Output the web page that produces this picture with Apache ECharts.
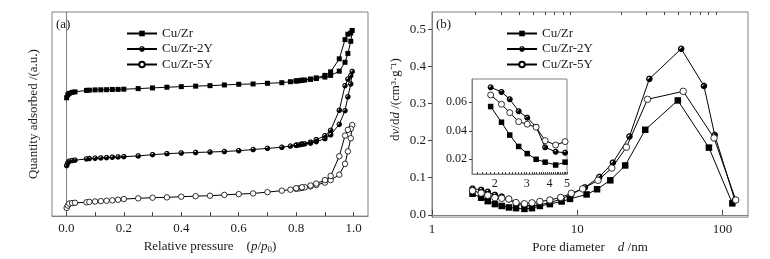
<!DOCTYPE html>
<html>
<head>
<meta charset="utf-8">
<script src="https://cdn.jsdelivr.net/npm/echarts@6/dist/echarts.min.js"></script>
<style>html,body{margin:0;padding:0;background:#fff}#chart{width:770px;height:259px}</style>
</head>
<body>
<div id="chart"></div>
<script>
// (a) N2 isotherms: relative pressure, adsorption branch then desorption branch
var P_ADS = [0.001, 0.005, 0.01, 0.02, 0.03, 0.07, 0.08, 0.1, 0.12, 0.14, 0.16, 0.18, 0.2, 0.25, 0.3, 0.35, 0.4, 0.45, 0.5, 0.55, 0.6, 0.65, 0.7, 0.75, 0.78, 0.8, 0.81, 0.82, 0.83, 0.85, 0.87, 0.9, 0.92, 0.95, 0.97, 0.98, 0.99, 0.995];
var P_DES = [0.99, 0.98, 0.97, 0.95, 0.92, 0.9, 0.87, 0.85, 0.82, 0.8];
// quantity adsorbed (a.u., curves offset)
var Q_ZR_ADS = [120, 123, 124.5, 125.5, 126, 127.5, 127.7, 128, 128.1, 128.2, 128.4, 128.5, 128.7, 129.3, 130, 130.7, 131.3, 131.8, 132.3, 133, 133.7, 134, 134.7, 135.3, 136.3, 137, 137.3, 137.7, 138, 138.7, 139.5, 141, 142.7, 147, 156, 165, 177.3, 188.3];
var Q_ZR_DES = [185.7, 184.5, 179, 159.5, 146.3, 142.7, 140.2, 139, 137.8, 137.1];
var Q_2Y_ADS = [51.3, 54, 55.7, 56.3, 56.7, 58, 58.3, 58.7, 59, 59.3, 59.7, 60, 60.3, 61, 62.3, 63.3, 64, 64.5, 65, 65.5, 66.3, 67.5, 68.7, 69.8, 71, 71.7, 72.2, 72.7, 73.2, 74, 75.5, 78.5, 82.5, 93, 107, 121, 134, 146.7];
var Q_2Y_DES = [142.5, 139, 132.3, 107.3, 87, 81.5, 77.5, 75, 73.2, 72];
var Q_5Y_ADS = [8.3, 10.7, 12.7, 13.2, 13.5, 14, 14.4, 14.8, 15.2, 15.6, 16, 16.6, 17.3, 18, 18.7, 19, 19.7, 20.2, 20.7, 21.5, 22.3, 23, 24.3, 25.8, 26.8, 27.7, 28.1, 28.6, 29.2, 30.2, 31.5, 34, 36.5, 42, 53, 65.7, 79, 92.3];
var Q_5Y_DES = [88.5, 87.5, 81.7, 60.7, 40.7, 36.5, 33, 31, 29.2, 28.2];

// (b) pore size distribution
var D_ZR = [1.90, 2.18, 2.42, 2.71, 3.02, 3.38, 3.79, 4.33, 4.88, 5.53, 6.48, 7.81, 8.92, 11.6, 13.7, 16.9, 21.4, 29.4, 49.3, 80.7, 117];
var V_ZR = [0.057, 0.046, 0.037, 0.029, 0.024, 0.020, 0.018, 0.016, 0.018, 0.024, 0.029, 0.036, 0.043, 0.055, 0.069, 0.093, 0.133, 0.229, 0.308, 0.181, 0.031];
var D_2Y = [1.90, 2.18, 2.42, 2.71, 3.02, 3.38, 3.79, 4.33, 4.88, 5.53, 6.48, 7.7, 9.1, 11.3, 14.2, 17.6, 22.9, 31.4, 52, 74.6, 88.5, 121.6];
var V_2Y = [0.0705, 0.0672, 0.0621, 0.0537, 0.0492, 0.0427, 0.0284, 0.0253, 0.0246, 0.027, 0.033, 0.042, 0.055, 0.074, 0.102, 0.1405, 0.211, 0.366, 0.447, 0.347, 0.215, 0.040];
var D_5Y = [1.90, 2.18, 2.42, 2.71, 3.02, 3.38, 3.79, 4.33, 4.88, 5.53, 6.48, 7.7, 9.1, 10.9, 13.9, 17.3, 21.8, 30.5, 53.7, 87.5, 123.6];
var V_5Y = [0.0651, 0.0586, 0.0527, 0.0464, 0.0446, 0.0425, 0.0331, 0.0300, 0.0324, 0.036, 0.040, 0.047, 0.058, 0.070, 0.093, 0.126, 0.182, 0.311, 0.3325, 0.207, 0.040];
var INSET_N = 9; // points shown in the inset (d < 5 nm)

var names = ['Cu/Zr', 'Cu/Zr-2Y', 'Cu/Zr-5Y'];
var labelP = [0, 0.2, 0.4, 0.6, 0.8, 1.0];
var labelD = [1, 10, 100];
var labelV = [0, 0.1, 0.2, 0.3, 0.4, 0.5];
var labelDi = [2, 3, 4, 5];
var labelVi = [0.02, 0.04, 0.06];

var ff = 'Liberation Serif';
var axisColor = '#808080';
var textColor = '#1a1a1a';

// half filled circle: black disc with a small white spot at the upper left
function halfCircle() {
	var p = 'path://';
	var n = 24, a, i;
	for (i = 0; i < n; i++) {
		a = 2 * Math.PI * i / n;
		p += (i ? 'L' : 'M') + (10 + 10 * Math.cos(a)).toFixed(2) + ',' + (10 + 10 * Math.sin(a)).toFixed(2);
	}
	p += 'Z';
	for (i = 0; i <= 8; i++) {
		a = (290 - 15 * i) * Math.PI / 180;
		p += (i ? 'L' : 'M') + (10 + 6 * Math.cos(a)).toFixed(2) + ',' + (10 + 6 * Math.sin(a)).toFixed(2);
	}
	p += 'L9,9Z';
	return p;
}
var symbols = ['rect', halfCircle(), 'circle'];
var fills = ['#000', '#000', '#fff'];

function pairs(xs, ys) {
	var out = [];
	for (var i = 0; i < xs.length; i++) out.push([xs[i], ys[i]]);
	return out;
}

var tickP = [];
for (var i = 0; i <= 10; i++) tickP.push(i / 10);
var minorD = [];
for (var k = 2; k <= 9; k++) { minorD.push(k); minorD.push(k * 10); }
var tickDi = [];
for (var t = 16; t <= 50; t++) tickDi.push(t / 10);

function mkSeries(idx, data, xi, yi, sizes) {
	return {
		name: names[idx],
		type: 'line',
		xAxisIndex: xi,
		yAxisIndex: yi,
		data: data,
		symbol: symbols[idx],
		symbolSize: sizes[idx],
		showAllSymbol: true,
		animation: false,
		lineStyle: { color: '#000', width: 1 },
		itemStyle: { color: fills[idx], borderColor: '#000', borderWidth: idx == 2 ? 0.8 : 0 }
	};
}

var isoData = [
	pairs(P_ADS.concat(P_DES), Q_ZR_ADS.concat(Q_ZR_DES)),
	pairs(P_ADS.concat(P_DES), Q_2Y_ADS.concat(Q_2Y_DES)),
	pairs(P_ADS.concat(P_DES), Q_5Y_ADS.concat(Q_5Y_DES))
];
var psdData = [pairs(D_ZR, V_ZR), pairs(D_2Y, V_2Y), pairs(D_5Y, V_5Y)];

var series = [];
for (var s = 0; s < 3; s++) series.push(mkSeries(s, isoData[s], 0, 0, [5, 5.5, 5.5]));
for (var s = 0; s < 3; s++) series.push(mkSeries(s, psdData[s], 1, 1, [6.5, 6.5, 6.5]));
for (var s = 0; s < 3; s++) series.push(mkSeries(s, psdData[s].slice(0, INSET_N), 3, 2, [5.5, 6, 6]));

var nameStyle = {
	fontFamily: ff, fontSize: 13, color: textColor,
	rich: { i: { fontFamily: ff, fontSize: 13, fontStyle: 'italic', color: textColor },
		sub: { fontFamily: ff, fontSize: 9, color: textColor, verticalAlign: 'bottom', padding: [6, 0, 0, 0] } }
};
var nameStyleR = echarts.util.merge({ padding: [0, 0, 0, 30] }, nameStyle);

var legendText = { fontFamily: ff, fontSize: 13, color: textColor, lineHeight: 15 };

var myChart = echarts.init(document.getElementById('chart'));
var option = {
	animation: false,
	backgroundColor: '#fff',
	grid: [
		{ left: 52, top: 12, width: 316, height: 207, show: true, borderColor: axisColor, borderWidth: 1 },
		{ left: 432, top: 12, width: 316, height: 207, show: true, borderColor: axisColor, borderWidth: 1 },
		{ left: 472, top: 79, width: 95, height: 95, show: true, borderColor: axisColor, borderWidth: 1, backgroundColor: '#fff' }
	],
	legend: [
		{ data: names, left: 121, top: 21, orient: 'vertical', itemWidth: 30, itemHeight: 7, itemGap: 0.5, textStyle: legendText },
		{ data: names, left: 501, top: 21, orient: 'vertical', itemWidth: 30, itemHeight: 7, itemGap: 0.5, textStyle: legendText }
	],
	xAxis: [
		{
			gridIndex: 0, type: 'value', min: -0.05, max: 1.05,
			name: 'Relative pressure    ({i|p}/{i|p}{sub|0})', nameLocation: 'middle', nameGap: 22, nameTextStyle: nameStyle,
			axisLine: { lineStyle: { color: axisColor } },
			axisTick: { inside: true, length: 4, customValues: tickP, lineStyle: { color: '#444' } },
			axisLabel: { customValues: labelP, margin: 6, formatter: function (v) { return v.toFixed(1); }, fontFamily: ff, fontSize: 13, color: textColor },
			splitLine: { show: false }
		},
		{
			gridIndex: 1, type: 'log', min: 1, max: 150,
			name: 'Pore diameter    {i|d} /nm', nameLocation: 'middle', nameGap: 22, nameTextStyle: nameStyle,
			axisLine: { lineStyle: { color: axisColor } },
			axisTick: { inside: true, length: 5, customValues: labelD, lineStyle: { color: '#444' } },
			axisLabel: { customValues: labelD, margin: 6, fontFamily: ff, fontSize: 13, color: textColor },
			splitLine: { show: false }, minorTick: { show: false }
		},
		{
			gridIndex: 1, type: 'log', min: 1, max: 150,
			axisLine: { show: false },
			axisTick: { inside: true, length: 3, customValues: minorD, lineStyle: { color: '#444' } },
			axisLabel: { show: false },
			splitLine: { show: false }
		},
		{
			gridIndex: 2, type: 'log', min: 1.5, max: 5,
			axisLine: { lineStyle: { color: axisColor } },
			axisTick: { inside: true, length: 2, customValues: tickDi, lineStyle: { color: '#444' } },
			axisLabel: { customValues: labelDi, margin: 4, fontFamily: ff, fontSize: 12, color: textColor },
			splitLine: { show: false }
		}
	],
	yAxis: [
		{
			gridIndex: 0, type: 'value', min: 0, max: 207,
			name: 'Quantity adsorbed /(a.u.)', nameLocation: 'middle', nameGap: 12, nameTextStyle: nameStyle,
			axisLine: { show: true, lineStyle: { color: axisColor } },
			axisTick: { show: false }, axisLabel: { show: false }, splitLine: { show: false }
		},
		{
			gridIndex: 1, type: 'value', min: -0.006, max: 0.546,
			name: 'd{i|v}/d{i|d} /(cm³·g⁻¹)', nameLocation: 'middle', nameGap: 30, nameTextStyle: nameStyleR,
			axisLine: { show: true, lineStyle: { color: axisColor } },
			axisTick: { show: true, inside: false, length: 4, customValues: labelV, lineStyle: { color: '#444' } },
			axisLabel: { customValues: labelV, margin: 6, formatter: function (v) { return v.toFixed(1); }, fontFamily: ff, fontSize: 13, color: textColor },
			splitLine: { show: false }
		},
		{
			gridIndex: 2, type: 'value', min: 0.0097, max: 0.0763,
			axisLine: { show: true, lineStyle: { color: axisColor } },
			axisTick: { show: true, inside: false, length: 3, customValues: labelVi, lineStyle: { color: '#444' } },
			axisLabel: { customValues: labelVi, margin: 5, formatter: function (v) { return v.toFixed(2); }, fontFamily: ff, fontSize: 12, color: textColor },
			splitLine: { show: false }
		}
	],
	graphic: [
		{ type: 'text', left: 56, top: 18, style: { text: '(a)', font: '13px "Liberation Serif"', fill: textColor } },
		{ type: 'text', left: 436, top: 18, style: { text: '(b)', font: '13px "Liberation Serif"', fill: textColor } }
	],
	series: series
};
myChart.setOption(option);
</script>
</body>
</html>
